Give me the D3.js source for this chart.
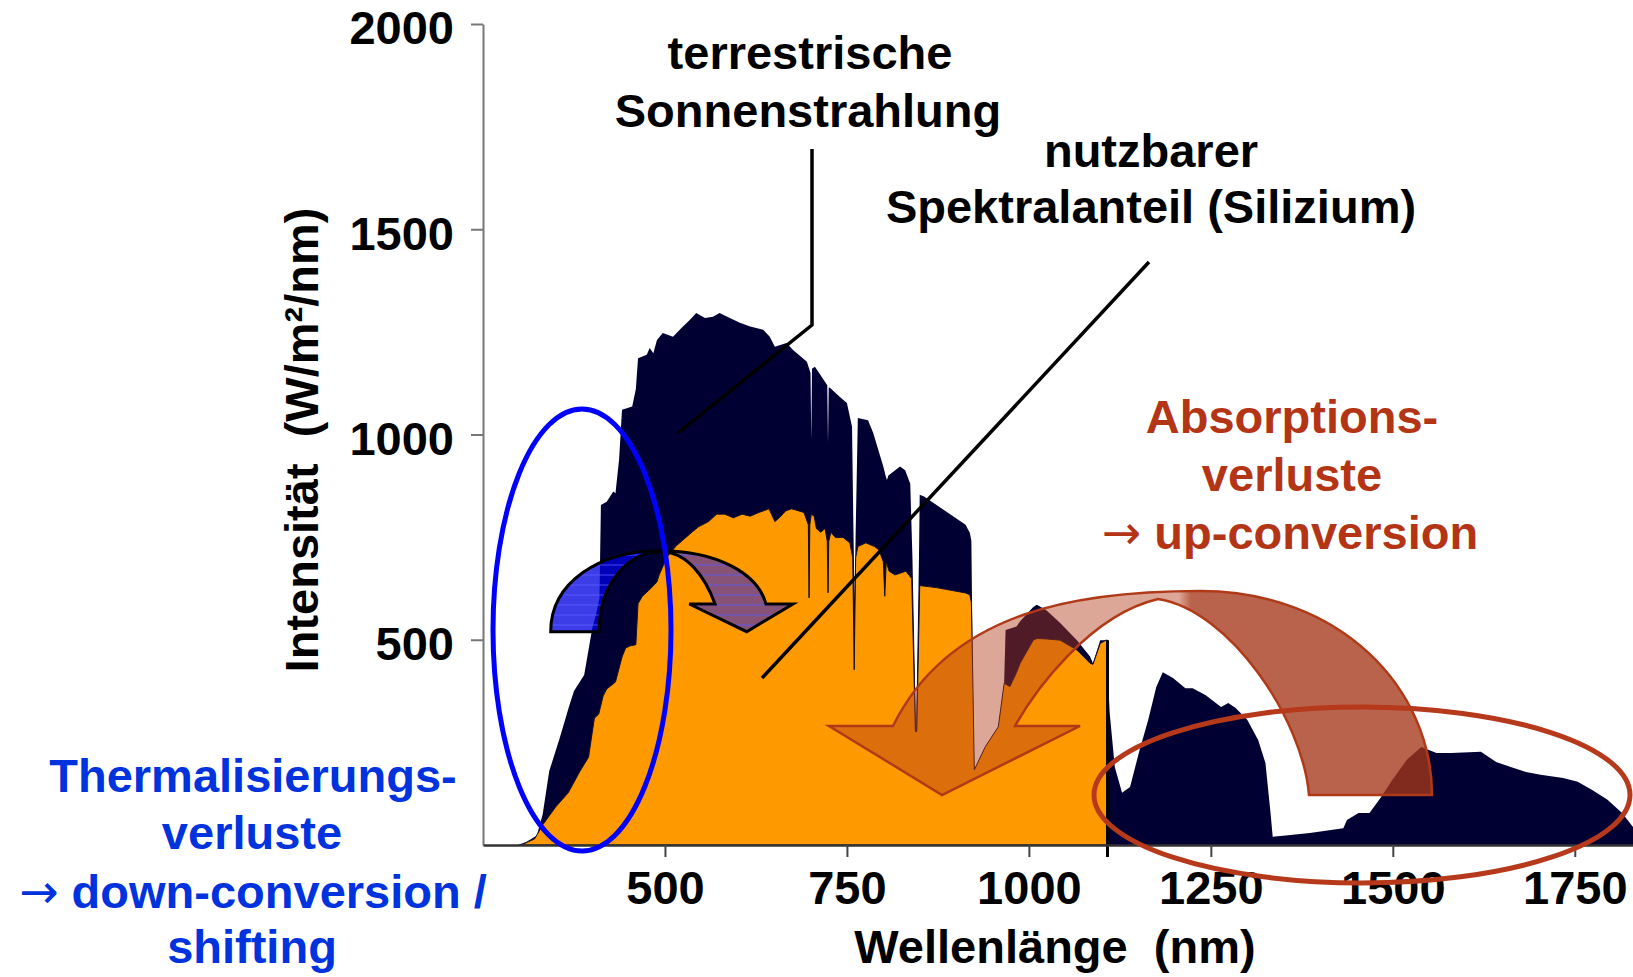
<!DOCTYPE html>
<html>
<head>
    <meta charset="utf-8">
    <title>Sonnenspektrum und Silizium</title>
    <script src="https://cdn.jsdelivr.net/npm/d3@7"></script>
    <style>
        body { margin: 0; background: #fff; }
        svg { display: block; }
        text { font-family: "Liberation Sans", Arial, sans-serif; font-weight: bold; white-space: pre; }
        .axis text { font-size: 47px; fill: #000; }
        .arrowGlyph { font-family: "DejaVu Sans", sans-serif; font-weight: normal; }
    </style>
</head>
<body>
<script>
    // terrestrial spectrum (AM1.5)
    var sunNm = [295, 298, 310, 324, 332, 341, 355, 368, 375, 389, 400, 405, 410, 412, 420, 429, 432, 437, 441,
        455, 460, 463, 475, 479, 484, 489, 497, 511, 523, 534, 543, 555, 566, 575, 589, 603, 617, 635, 644, 651,
        667, 676, 695, 700, 701, 702, 706, 715, 723, 724, 725, 727, 740, 750, 757, 759, 760.5, 762, 765, 779, 786,
        800, 803, 805, 807, 823, 830, 837, 840, 845, 849, 850, 856, 913, 919, 921, 923, 925, 940, 958, 966, 968,
        983, 988, 1006, 1011, 1024, 1043, 1066, 1084, 1088, 1098, 1106, 1111, 1118, 1128, 1139, 1151, 1164, 1175,
        1184, 1198, 1215, 1225, 1243, 1264, 1274, 1284, 1300, 1315, 1325, 1332, 1335, 1356, 1386, 1432, 1437,
        1453, 1468, 1484, 1499, 1519, 1539, 1560, 1580, 1621, 1642, 1662, 1683, 1703, 1734, 1754, 1774, 1795,
        1815, 1830, 1850, 1860];
    var sunW = [0, 0, 8, 23, 75, 180, 258, 336, 375, 414, 527, 560, 600, 828, 836, 861, 857, 940, 1060,
        1068, 1111, 1186, 1194, 1211, 1198, 1230, 1247, 1238, 1260, 1279, 1296, 1284, 1287, 1296, 1284, 1272, 1263, 1255, 1238, 1214,
        1223, 1206, 1177, 1150, 986, 1160, 1165, 1141, 1120, 979, 1115, 1113, 1092, 1077, 1019, 760, 600, 760, 1040, 1035, 1004,
        922, 900, 889, 900, 922, 913, 880, 700, 270, 700, 853, 849, 780, 760, 740, 400, 183, 239, 288, 394, 524,
        532, 545, 580, 585, 572, 541, 499, 459, 443, 499, 499, 322, 190, 127, 141, 224, 305, 385,
        421, 407, 382, 382, 365, 336, 346, 334, 305, 256, 200, 78, 20, 24, 29, 41, 61,
        78, 78, 117, 158, 207, 239, 224, 224, 227, 202, 190, 178, 171, 163, 154, 134, 110,
        78, 44, 10, 0];

    // part usable by silicon
    var siNm = [300, 304, 321, 332, 350, 367, 383, 395, 403, 409, 415, 420, 432, 441, 446, 452, 460, 463, 469,
        480, 489, 492, 503, 515, 526, 537, 546, 560, 571, 582, 594, 606, 617, 629, 643, 651, 657, 666, 674, 691,
        697, 698, 699, 701, 705, 708, 714, 720, 723, 724, 725, 728, 734, 745, 754, 758, 760, 762, 765, 776, 788,
        794, 800, 802, 804, 808, 816, 831, 839, 844, 845, 846, 850, 873, 913, 919, 921, 923, 925, 940, 958, 966,
        970, 974, 983, 988, 1006, 1011, 1024, 1043, 1066, 1084, 1088, 1098, 1106, 1108, 1108.1];
    var siW = [0, 1, 15, 49, 93, 127, 179, 214, 309, 319, 363, 380, 397, 458, 480, 485, 488, 588, 606,
        624, 641, 658, 702, 728, 745, 762, 775, 788, 806, 806, 797, 806, 801, 810, 819, 788, 797, 814, 819, 810,
        780, 602, 780, 806, 801, 771, 762, 771, 740, 614, 740, 762, 749, 749, 736, 700, 427, 700, 727, 736, 727,
        719, 690, 606, 690, 667, 658, 667, 649, 280, 275, 280, 632, 627, 614, 609, 590, 400, 183, 239, 288, 394,
        390, 386, 420, 443, 499, 503, 502, 499, 475, 443, 440, 491, 499, 499, 0];

    var xTicks = [500, 750, 1000, 1250, 1500, 1750];
    var yTicks = [500, 1000, 1500, 2000];
    var bandGapNm = 1108;

    var width = 1633, height = 977;

    var x = d3.scaleLinear().domain([250, 1830]).range([483, 1633]);
    var y = d3.scaleLinear().domain([0, 2000]).range([845, 24]);

    var svg = d3.select("body").append("svg")
            .attr("width", width)
            .attr("height", height);

    var defs = svg.append("defs");

    var hatch = defs.append("pattern")
            .attr("id", "hatch")
            .attr("patternUnits", "userSpaceOnUse")
            .attr("width", 12).attr("height", 10);
    hatch.append("line")
            .attr("x1", 0).attr("x2", 12).attr("y1", 5).attr("y2", 5)
            .attr("stroke", "rgba(90,90,255,0.8)").attr("stroke-width", 1);

    var blueGrad = defs.append("linearGradient")
            .attr("id", "blueGrad")
            .attr("gradientUnits", "userSpaceOnUse")
            .attr("x1", 551).attr("x2", 793).attr("y1", 0).attr("y2", 0);
    blueGrad.append("stop").attr("offset", 0).attr("stop-color", "rgba(0,0,225,0.76)");
    blueGrad.append("stop").attr("offset", 0.46).attr("stop-color", "rgba(0,0,225,0.76)");
    blueGrad.append("stop").attr("offset", 0.47).attr("stop-color", "rgba(35,25,215,0.55)");
    blueGrad.append("stop").attr("offset", 1).attr("stop-color", "rgba(35,25,215,0.55)");

    var brownGrad = defs.append("linearGradient")
            .attr("id", "brownGrad")
            .attr("gradientUnits", "userSpaceOnUse")
            .attr("x1", 829).attr("x2", 1432).attr("y1", 0).attr("y2", 0);
    brownGrad.append("stop").attr("offset", 0).attr("stop-color", "rgba(178,60,26,0.45)");
    brownGrad.append("stop").attr("offset", 0.58).attr("stop-color", "rgba(178,60,26,0.45)");
    brownGrad.append("stop").attr("offset", 0.6).attr("stop-color", "rgba(165,55,25,0.78)");
    brownGrad.append("stop").attr("offset", 1).attr("stop-color", "rgba(165,55,25,0.78)");

    var area = d3.area()
            .x(function (d) { return x(d[0]); })
            .y0(y(0))
            .y1(function (d) { return y(d[1]); });

    // spectra
    svg.append("path")
            .datum(d3.zip(sunNm, sunW))
            .attr("fill", "#000033")
            .attr("d", area);

    svg.append("path")
            .datum(d3.zip(siNm, siW))
            .attr("fill", "#ff9900")
            .attr("stroke", "#10102a")
            .attr("stroke-width", 1)
            .attr("d", area);

    // band gap edge of silicon
    svg.append("line")
            .attr("x1", x(bandGapNm)).attr("x2", x(bandGapNm))
            .attr("y1", y(499)).attr("y2", y(0) + 12)
            .attr("stroke", "#000").attr("stroke-width", 3);

    // axes
    var yAxis = svg.append("g")
            .attr("class", "axis")
            .attr("transform", "translate(" + x(250) + ",0)")
            .call(d3.axisLeft(y).tickValues(yTicks).tickFormat(d3.format("d"))
                    .tickSize(12).tickSizeOuter(0).tickPadding(17));
    yAxis.select(".domain").attr("stroke", "#777").attr("stroke-width", 2);
    yAxis.selectAll(".tick line").attr("stroke", "#777").attr("stroke-width", 2);
    yAxis.selectAll(".tick text").attr("dy", "0.42em");

    var xAxis = svg.append("g")
            .attr("class", "axis")
            .attr("transform", "translate(0," + y(0) + ")")
            .call(d3.axisBottom(x).tickValues(xTicks).tickFormat(d3.format("d"))
                    .tickSize(12).tickSizeOuter(0).tickPadding(14));
    xAxis.select(".domain").attr("stroke", "#333").attr("stroke-width", 2.5);
    xAxis.selectAll(".tick line").attr("stroke", "#444").attr("stroke-width", 2);
    svg.selectAll(".axis text").attr("font-family", null);

    // axis titles
    svg.append("text")
            .attr("x", 1055).attr("y", 963)
            .attr("text-anchor", "middle")
            .style("font-size", "47px")
            .text("Wellenlänge  (nm)");

    svg.append("text")
            .attr("transform", "translate(318,440) rotate(-90)")
            .attr("text-anchor", "middle")
            .style("font-size", "47px")
            .text("Intensität  (W/m²/nm)");

    // pointer lines
    svg.append("path")
            .attr("d", "M812,149 L812,325 L678,433")
            .attr("fill", "none").attr("stroke", "#000").attr("stroke-width", 3.5);
    svg.append("path")
            .attr("d", "M1149,262 L762,678")
            .attr("fill", "none").attr("stroke", "#000").attr("stroke-width", 3.5);

    // blue curved arrow (down-conversion)
    var blueArrow = "M550.7,631.7 C550.7,582 600,550.7 660,550.7 C718,550.7 758,574 766,604 L793,604 L746.7,631.7 " +
            "L689.3,604 L715,604 C705,576 686,551.7 661.7,551.7 C626,551.7 599,586 599,631.7 Z";
    svg.append("path").attr("d", blueArrow).attr("fill", "url(#blueGrad)");
    svg.append("path").attr("d", blueArrow).attr("fill", "url(#hatch)")
            .attr("stroke", "#000").attr("stroke-width", 3).attr("stroke-linejoin", "miter");

    svg.append("ellipse")
            .attr("cx", 582).attr("cy", 630).attr("rx", 89).attr("ry", 221)
            .attr("fill", "none").attr("stroke", "#0000ff").attr("stroke-width", 5);

    // brown curved arrow (up-conversion)
    var brownArrow = "M1432,795 C1432,688 1340,591 1200,591 C1080,591 950,610 893,726 L829,726 L942,795 L1080,726 " +
            "L1015,726 C1035,690 1090,615 1158,599 C1230,610 1303,720 1309,795 Z";
    svg.append("path").attr("d", brownArrow)
            .attr("fill", "url(#brownGrad)")
            .attr("stroke", "#b03a18").attr("stroke-width", 2.5);

    svg.append("ellipse")
            .attr("cx", 1362).attr("cy", 795).attr("rx", 268).attr("ry", 88)
            .attr("fill", "none").attr("stroke", "#b5391a").attr("stroke-width", 5);

    // annotations
    var labels = [
        {x: 810, y: 69, t: "terrestrische", c: "#000"},
        {x: 808, y: 127, t: "Sonnenstrahlung", c: "#000"},
        {x: 1151, y: 167, t: "nutzbarer", c: "#000"},
        {x: 1151, y: 223, t: "Spektralanteil (Silizium)", c: "#000"},
        {x: 1292, y: 433, t: "Absorptions-", c: "#b33515"},
        {x: 1292, y: 491, t: "verluste", c: "#b33515"},
        {x: 1290, y: 549, t: " up-conversion", c: "#b33515", arrow: true},
        {x: 253, y: 792, t: "Thermalisierungs-", c: "#0033dd"},
        {x: 252, y: 849, t: "verluste", c: "#0033dd"},
        {x: 253, y: 908, t: " down-conversion /", c: "#0033dd", arrow: true},
        {x: 252, y: 963, t: "shifting", c: "#0033dd"}
    ];
    var notes = svg.selectAll("text.note")
            .data(labels)
            .enter()
            .append("text")
            .attr("class", "note")
            .attr("x", function (d) { return d.x; })
            .attr("y", function (d) { return d.y; })
            .attr("text-anchor", "middle")
            .attr("fill", function (d) { return d.c; })
            .style("font-size", "47px");
    notes.filter(function (d) { return d.arrow; })
            .append("tspan")
            .attr("class", "arrowGlyph")
            .text("\u2192");
    notes.append("tspan")
            .text(function (d) { return d.t; });
</script>
</body>
</html>
